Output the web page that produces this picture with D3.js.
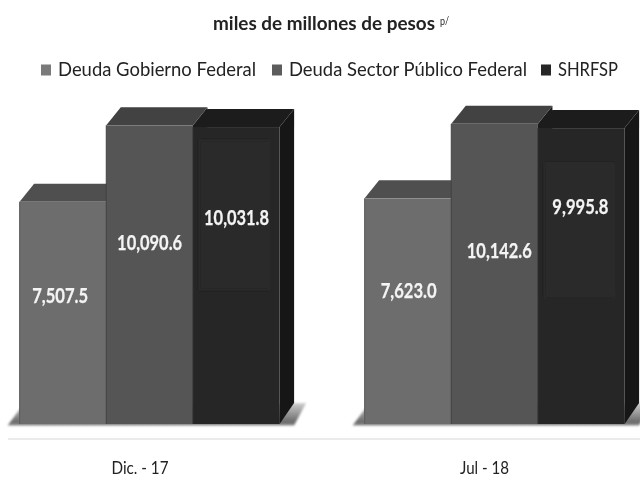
<!DOCTYPE html>
<html><head><meta charset="utf-8">
<script src="https://cdn.jsdelivr.net/npm/d3@7"></script>
<style>html,body{margin:0;padding:0;background:#fff}svg{display:block}</style></head>
<body><svg id="c" width="640" height="479"></svg>
<script>
const categories = ["Dic. - 17", "Jul - 18"];
const seriesNames = ["Deuda Gobierno Federal", "Deuda Sector Público Federal", "SHRFSP"];
const gobierno = [7507.5, 7623.0];
const sectorPublico = [10090.6, 10142.6];
const shrfsp = [10031.8, 9995.8];
const valueLabels = [["7,507.5","7,623.0"],["10,090.6","10,142.6"],["10,031.8","9,995.8"]];
// layout only: label height as a share of the bar, and horizontal nudge
const labelShare = [[0.577,0.59],[0.607,0.577],[0.694,0.733]];
const labelNudge = [[-2.8,0.7],[0,4.7],[0.3,-0.9]];

const front=["#6d6d6d","#555555","#272727"], topFace=["#4f4f4f","#424242","#1f1f1f"], swatch=["#7a7a7a","#5c5c5c","#262626"];
const series=[gobierno,sectorPublico,shrfsp];
const svg=d3.select("#c"), font="Lato, Carlito, sans-serif";
const defs=svg.append("defs");
const soft=defs.append("filter").attr("id","soft").attr("x","-5%").attr("y","-5%").attr("width","110%").attr("height","110%");
soft.append("feGaussianBlur").attr("stdDeviation",0.45);
const sb=defs.append("filter").attr("id","sb").attr("x","-10%").attr("y","-20%").attr("width","120%").attr("height","140%");
sb.append("feGaussianBlur").attr("stdDeviation",1);
const sg=defs.append("linearGradient").attr("id","shadow").attr("x1",0).attr("x2",0).attr("y1",0).attr("y2",1);
sg.append("stop").attr("offset",0).attr("stop-color","#cfcfcf");
sg.append("stop").attr("offset",0.85).attr("stop-color","#6a6a6a");
sg.append("stop").attr("offset",1).attr("stop-color","#8a8a8a");

const y=d3.scaleLinear().domain([0,10000]).range([424,128]);
const x0=d3.scaleBand().domain(categories).range([19.6,624.6]).paddingInner(0.2464).paddingOuter(0);
const x1=d3.scaleBand().domain(d3.range(3)).range([0,x0.bandwidth()]);
const dx=14.5, dy=18;
const w=x1.bandwidth();

const g=svg.append("g").attr("filter","url(#soft)");
categories.forEach(c=>{
  const L=x0(c), R=L+3*w;
  g.append("path").attr("d",d3.line()([[L-12,425.5],[L+1,408],[R+dx+12,403],[R+dx,425.5]])+"Z")
   .attr("fill","url(#shadow)").attr("filter","url(#sb)");
});
g.append("line").attr("x1",8).attr("x2",640).attr("y1",439).attr("y2",439).attr("stroke","#e4e4e4").attr("stroke-width",1.5);

categories.forEach((c,ci)=>{
  series.forEach((vals,si)=>{
    const X=x0(c)+x1(si), Y=y(vals[ci]), B=y(0);
    const b=g.append("g");
    b.append("path").attr("d",d3.line()([[X+w,Y],[X+w+dx,Y-dy],[X+w+dx,B-21],[X+w,B]])+"Z").attr("fill",si===2?"#171717":"#1f1f1f");
    b.append("path").attr("d",d3.line()([[X,Y],[X+dx,Y-dy],[X+w+dx,Y-dy],[X+w,Y]])+"Z").attr("fill",topFace[si]);
    b.append("rect").attr("x",X).attr("y",Y).attr("width",w).attr("height",B-Y).attr("fill",front[si]);
    b.append("line").attr("x1",X).attr("x2",X).attr("y1",Y).attr("y2",B).attr("stroke",si===0?"#5e5e5e":si===1?"#444":"#333").attr("stroke-width",1);
    if(si===2) b.append("rect").attr("x",X+6).attr("y",Y+(ci===0?13:35)).attr("width",w-15).attr("height",ci===0?150:134).attr("fill","#2c2c2c").attr("filter","url(#sb)");
  });
});
series.forEach((vals,si)=>categories.forEach((c,ci)=>{
  g.append("text").attr("x",x0(c)+x1(si)+w/2+labelNudge[si][ci])
   .attr("y",y(vals[ci]*labelShare[si][ci])).attr("dy","0.35em").attr("text-anchor","middle")
   .attr("font-family",font).attr("font-weight",700).attr("font-size",20).attr("fill","#f4f4f4")
   .attr("stroke","#f4f4f4").attr("stroke-width",0.25)
   .attr("textLength",valueLabels[si][ci].length<8?56:65).attr("lengthAdjust","spacingAndGlyphs")
   .text(valueLabels[si][ci]);
}));
const catX=[140,484.5], catW=[57,49];
categories.forEach((c,i)=>g.append("text").attr("x",catX[i]).attr("y",468).attr("dy","0.35em").attr("text-anchor","middle")
  .attr("font-family",font).attr("font-size",18).attr("fill","#222").attr("textLength",catW[i]).attr("lengthAdjust","spacingAndGlyphs").text(c));
g.append("text").attr("x",213).attr("y",24).attr("dy","0.35em").attr("font-family",font).attr("font-weight",700).attr("font-size",18.5).attr("fill","#222")
 .attr("textLength",222).attr("lengthAdjust","spacingAndGlyphs").text("miles de millones de pesos");
g.append("text").attr("x",440).attr("y",21).attr("dy","0.35em").attr("font-family",font).attr("font-size",12).attr("fill","#222").attr("textLength",9).attr("lengthAdjust","spacingAndGlyphs").text("p/");
const legX=[41,272,541], legW=[198,238,60];
seriesNames.forEach((n,i)=>{
  g.append("rect").attr("x",legX[i]).attr("y",64.5).attr("width",10).attr("height",11).attr("fill",swatch[i]);
  g.append("text").attr("x",legX[i]+17).attr("y",69.5).attr("dy","0.35em").attr("font-family",font).attr("font-size",19.5).attr("fill","#222")
   .attr("textLength",legW[i]).attr("lengthAdjust","spacingAndGlyphs").text(n);
});
</script></body></html>
